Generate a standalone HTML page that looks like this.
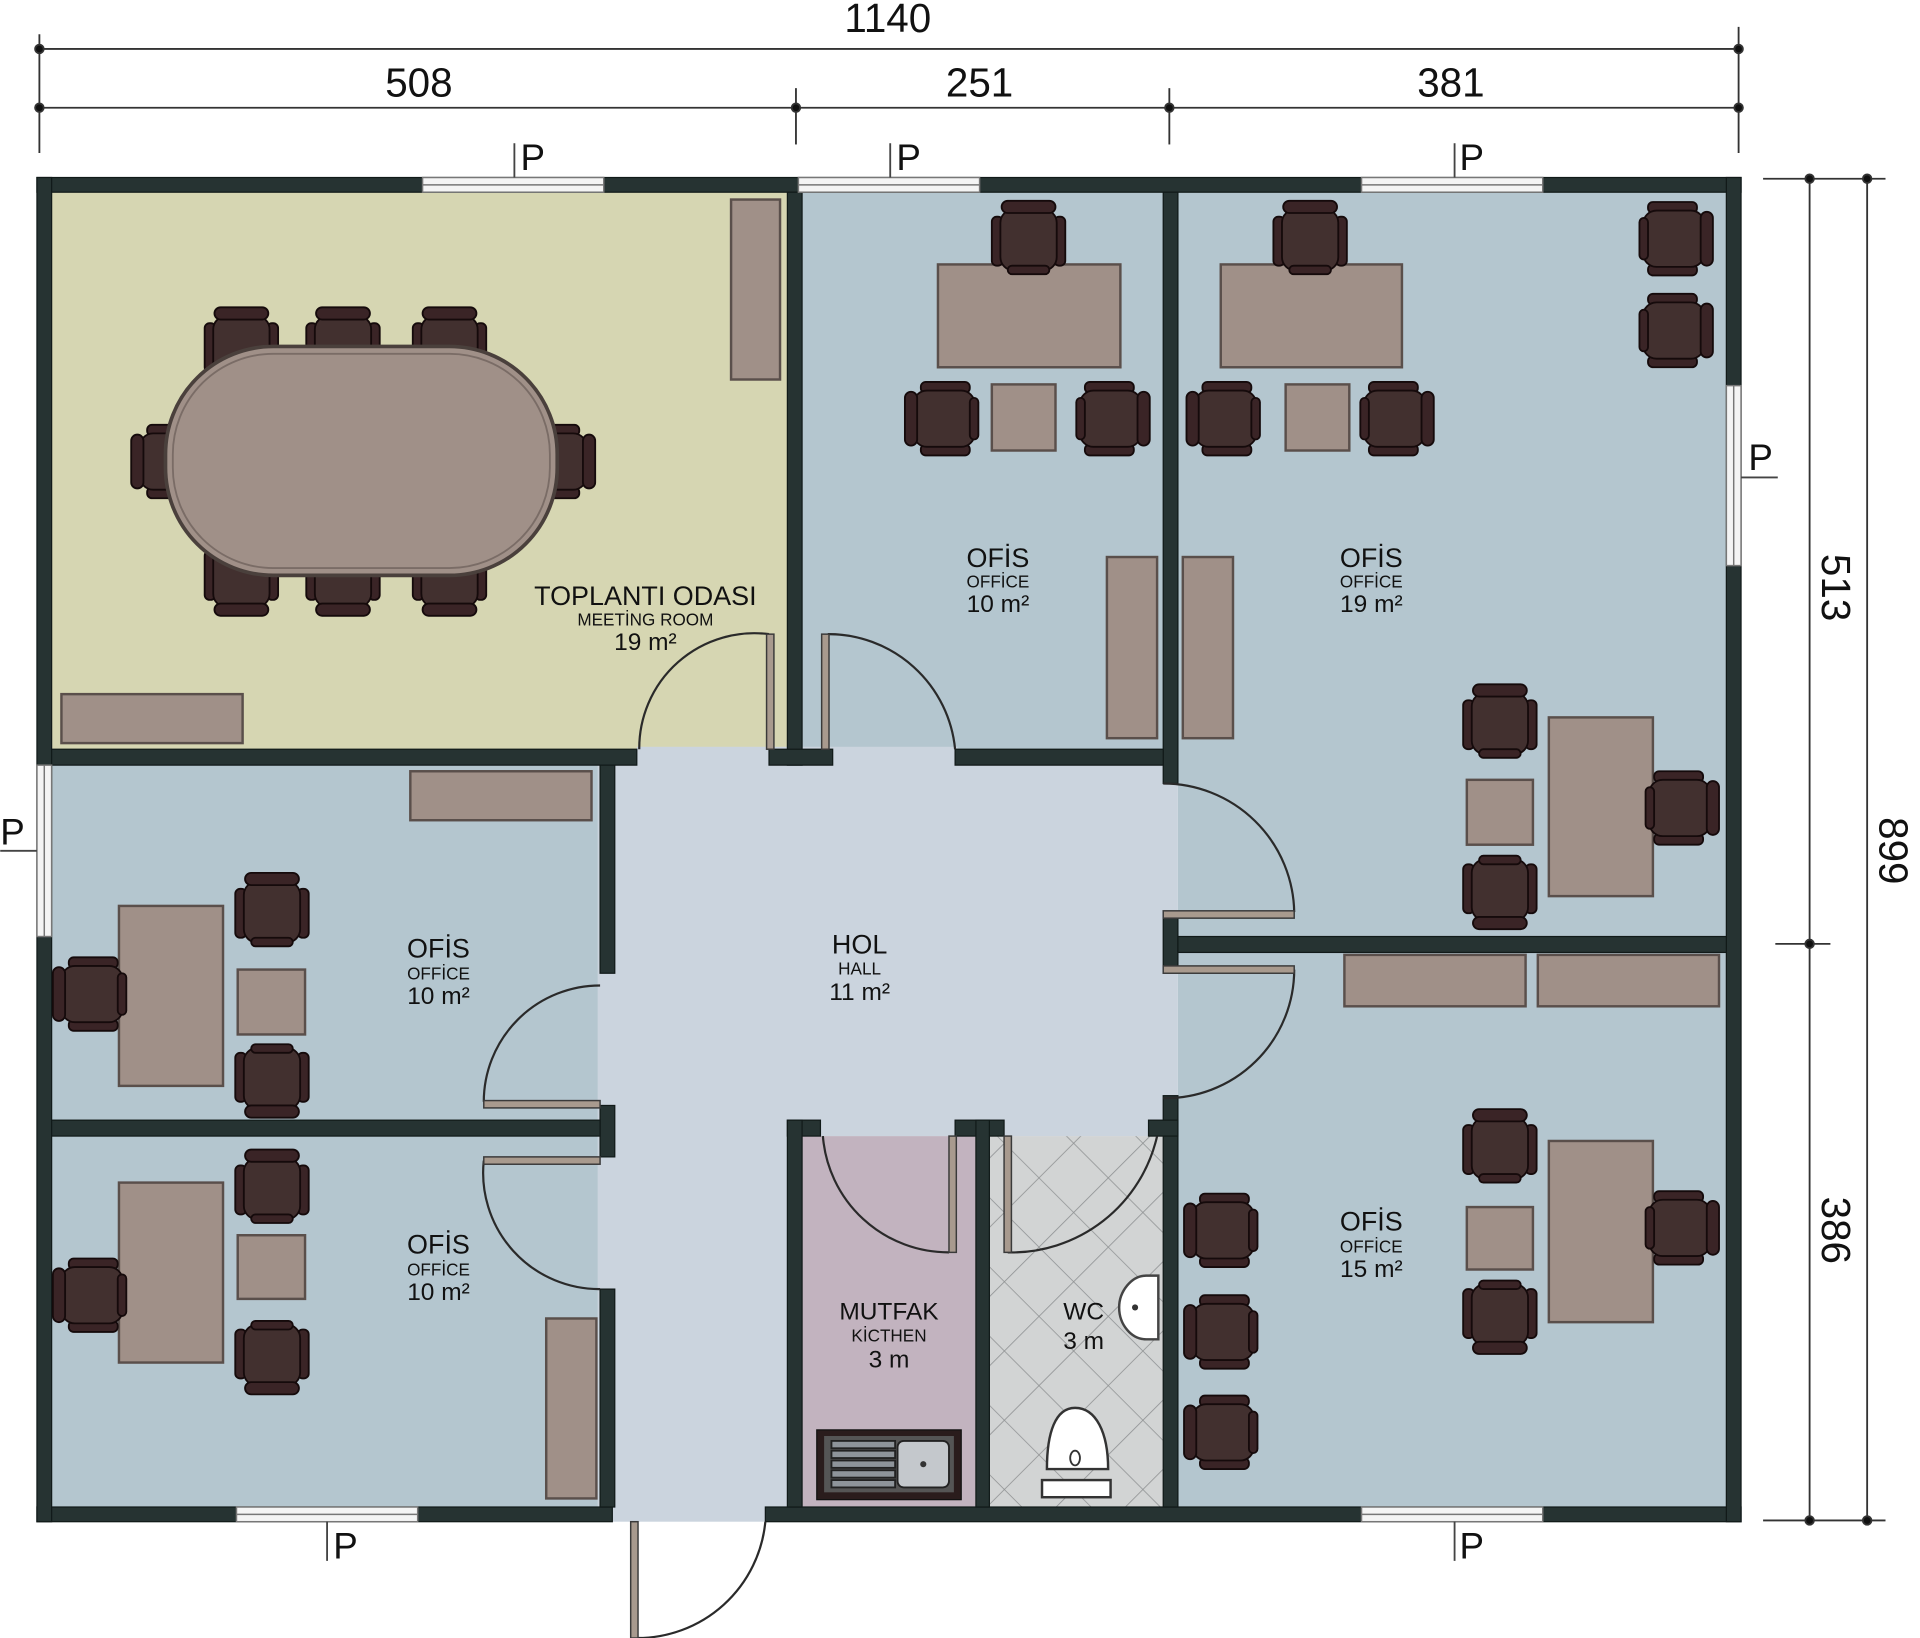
<!DOCTYPE html>
<html><head><meta charset="utf-8"><style>
html,body{margin:0;padding:0;background:#fff;}
svg{display:block;}
text{font-family:"Liberation Sans",Arial,sans-serif;fill:#111;}
</style></head><body>
<svg width="1920" height="1638" viewBox="0 0 1568 1338" xmlns="http://www.w3.org/2000/svg">
<defs>
<g id="ch">
 <rect x="-30" y="-18" width="9" height="40" rx="4" fill="#3a2426" stroke="#150a0b" stroke-width="1.5"/>
 <rect x="21" y="-18" width="9" height="40" rx="4" fill="#3a2426" stroke="#150a0b" stroke-width="1.5"/>
 <rect x="-23" y="-24" width="46" height="50" rx="11" fill="#42302f" stroke="#150a0b" stroke-width="1.5"/>
 <rect x="-22" y="-31" width="44" height="10" rx="5" fill="#3a2426" stroke="#150a0b" stroke-width="1.5"/>
 <rect x="-17" y="22" width="34" height="7" rx="3.5" fill="#3a2426" stroke="#150a0b" stroke-width="1.5"/>
</g>
<pattern id="tile" width="40" height="40" patternUnits="userSpaceOnUse" patternTransform="rotate(45)">
 <rect width="40" height="40" fill="#d2d4d4"/>
 <path d="M0 0H40M0 0V40" stroke="#8e9192" stroke-width="1.3"/>
</pattern>
</defs>

<!-- floors -->
<rect x="42" y="157" width="601" height="455" fill="#d6d6b2"/>
<rect x="655" y="157" width="295" height="455" fill="#b4c6cf"/>
<rect x="962" y="157" width="448" height="608" fill="#b4c6cf"/>
<rect x="42" y="625" width="448" height="290" fill="#b4c6cf"/>
<rect x="42" y="928" width="448" height="303" fill="#b4c6cf"/>
<rect x="962" y="778" width="448" height="453" fill="#b4c6cf"/>
<rect x="655" y="928" width="142" height="303" fill="#c2b3bf"/>
<rect x="808" y="928" width="142" height="303" fill="url(#tile)"/>
<rect x="490" y="612" width="472" height="316" fill="#cbd4de"/>
<rect x="488" y="612" width="155" height="631" fill="#cbd4de"/>
<rect x="520" y="610" width="262" height="16" fill="#cbd4de"/>

<!-- walls -->
<g fill="#263332" stroke="#111a19" stroke-width="1">
<rect x="30" y="145" width="1392" height="12"/>
<rect x="30" y="1231" width="470" height="12"/>
<rect x="625" y="1231" width="797" height="12"/>
<rect x="30" y="145" width="12" height="1098"/>
<rect x="1410" y="145" width="12" height="1098"/>
<rect x="643" y="157" width="12" height="468"/>
<rect x="950" y="157" width="12" height="483"/>
<rect x="950" y="745" width="12" height="45"/>
<rect x="950" y="895" width="12" height="336"/>
<rect x="42" y="612" width="478" height="13"/>
<rect x="628" y="612" width="52" height="13"/>
<rect x="780" y="612" width="170" height="13"/>
<rect x="962" y="765" width="448" height="13"/>
<rect x="490" y="625" width="12" height="170"/>
<rect x="490" y="903" width="12" height="42"/>
<rect x="490" y="1053" width="12" height="178"/>
<rect x="42" y="915" width="448" height="13"/>
<rect x="643" y="915" width="27" height="13"/>
<rect x="780" y="915" width="40" height="13"/>
<rect x="938" y="915" width="24" height="13"/>
<rect x="643" y="915" width="12" height="316"/>
<rect x="797" y="915" width="11" height="316"/>
</g>

<!-- windows -->
<g fill="#f4f4f4" stroke="#777" stroke-width="1.2">
<rect x="345" y="145" width="148" height="12"/><line x1="345" y1="151" x2="493" y2="151"/>
<rect x="652" y="145" width="148" height="12"/><line x1="652" y1="151" x2="800" y2="151"/>
<rect x="1112" y="145" width="148" height="12"/><line x1="1112" y1="151" x2="1260" y2="151"/>
<rect x="193" y="1231" width="148" height="12"/><line x1="193" y1="1237" x2="341" y2="1237"/>
<rect x="1112" y="1231" width="148" height="12"/><line x1="1112" y1="1237" x2="1260" y2="1237"/>
<rect x="30" y="625" width="12" height="140"/><line x1="36" y1="625" x2="36" y2="765"/>
<rect x="1410" y="315" width="12" height="147"/><line x1="1416" y1="315" x2="1416" y2="462"/>
</g>
<g stroke="#444" stroke-width="1.5">
<line x1="420" y1="117" x2="420" y2="145"/><line x1="727" y1="117" x2="727" y2="145"/><line x1="1188" y1="117" x2="1188" y2="145"/>
<line x1="267" y1="1243" x2="267" y2="1275"/><line x1="1188" y1="1243" x2="1188" y2="1275"/>
<line x1="0" y1="695" x2="30" y2="695"/><line x1="1422" y1="390" x2="1452" y2="390"/>
</g>
<g font-size="30">
<text x="425" y="139">P</text><text x="732" y="139">P</text><text x="1192" y="139">P</text>
<text x="272" y="1273">P</text><text x="1192" y="1273">P</text>
<text x="0" y="690">P</text><text x="1428" y="384">P</text>
</g>

<!-- dimensions -->
<g stroke="#333" stroke-width="1.5" fill="#111">
<line x1="30" y1="40" x2="1422" y2="40"/>
<line x1="30" y1="88" x2="1422" y2="88"/>
<line x1="32" y1="28" x2="32" y2="125"/><line x1="1420" y1="22" x2="1420" y2="125"/>
<line x1="650" y1="72" x2="650" y2="118"/><line x1="955" y1="72" x2="955" y2="118"/>
<circle cx="32" cy="40" r="3.5"/><circle cx="1420" cy="40" r="3.5"/>
<circle cx="32" cy="88" r="3.5"/><circle cx="650" cy="88" r="3.5"/><circle cx="955" cy="88" r="3.5"/><circle cx="1420" cy="88" r="3.5"/>
<line x1="1478" y1="145" x2="1478" y2="1243"/><line x1="1525" y1="145" x2="1525" y2="1243"/>
<line x1="1440" y1="146" x2="1540" y2="146"/><line x1="1440" y1="1242" x2="1540" y2="1242"/>
<line x1="1450" y1="771" x2="1495" y2="771"/>
<circle cx="1478" cy="146" r="3.5"/><circle cx="1525" cy="146" r="3.5"/><circle cx="1478" cy="771" r="3.5"/>
<circle cx="1478" cy="1242" r="3.5"/><circle cx="1525" cy="1242" r="3.5"/>
</g>
<g font-size="33" text-anchor="middle">
<text x="725" y="26">1140</text>
<text x="342" y="79">508</text><text x="800" y="79">251</text><text x="1185" y="79">381</text>
<text transform="translate(1488,480) rotate(90)">513</text>
<text transform="translate(1488,1005) rotate(90)">386</text>
<text transform="translate(1535,695) rotate(90)">899</text>
</g>

<!-- doors -->
<g fill="none" stroke="#2a2a2a" stroke-width="1.8">
<path d="M628 518 A94 94 0 0 0 522 612"/>
<path d="M676 518 A104 104 0 0 1 780 612"/>
<path d="M1057 745 A107 107 0 0 0 950 640"/>
<path d="M1057 792 A105 105 0 0 1 950 897"/>
<path d="M395 900 A95 95 0 0 1 490 805"/>
<path d="M395 948 A95 95 0 0 0 490 1053"/>
<path d="M672 928 A103 103 0 0 0 775 1023"/>
<path d="M945 928 A122 122 0 0 1 823 1023"/>
<path d="M625 1243 A105 105 0 0 1 520 1338"/>
</g>
<g fill="#a89a8e" stroke="#3a3a3a" stroke-width="1.2">
<rect x="626" y="518" width="6" height="94"/>
<rect x="671" y="518" width="6" height="94"/>
<rect x="950" y="744" width="107" height="6"/>
<rect x="950" y="789" width="107" height="6"/>
<rect x="395" y="899" width="95" height="6"/>
<rect x="395" y="945" width="95" height="6"/>
<rect x="775" y="928" width="6" height="95"/>
<rect x="820" y="928" width="6" height="95"/>
<rect x="515" y="1243" width="6" height="95"/>
</g>

<!-- furniture: tables/cabinets -->
<g fill="#a09088" stroke="#5a4f4b" stroke-width="2">
<rect x="597" y="163" width="40" height="147"/>
<rect x="50" y="567" width="148" height="40"/>
<rect x="766" y="216" width="149" height="84"/>
<rect x="810" y="314" width="52" height="54"/>
<rect x="904" y="455" width="41" height="148"/>
<rect x="997" y="216" width="148" height="84"/>
<rect x="1050" y="314" width="52" height="54"/>
<rect x="966" y="455" width="41" height="148"/>
<rect x="1265" y="586" width="85" height="146"/>
<rect x="1198" y="637" width="54" height="53"/>
<rect x="335" y="630" width="148" height="40"/>
<rect x="97" y="740" width="85" height="147"/>
<rect x="194" y="792" width="55" height="53"/>
<rect x="97" y="966" width="85" height="147"/>
<rect x="194" y="1009" width="55" height="52"/>
<rect x="446" y="1077" width="41" height="147"/>
<rect x="1098" y="780" width="148" height="42"/>
<rect x="1256" y="780" width="148" height="42"/>
<rect x="1265" y="932" width="85" height="148"/>
<rect x="1198" y="986" width="54" height="51"/>
</g>

<!-- chairs -->
<use href="#ch" transform="translate(197,282)"/>
<use href="#ch" transform="translate(280,282)"/>
<use href="#ch" transform="translate(367,282)"/>
<use href="#ch" transform="translate(197,472) rotate(180)"/>
<use href="#ch" transform="translate(280,472) rotate(180)"/>
<use href="#ch" transform="translate(367,472) rotate(180)"/>
<use href="#ch" transform="translate(138,377) rotate(-90)"/>
<use href="#ch" transform="translate(455,377) rotate(90)"/>
<rect x="135" y="283" width="320" height="187" rx="88" fill="#a09088" stroke="#4a403c" stroke-width="3"/>
<rect x="141" y="289" width="308" height="175" rx="82" fill="none" stroke="#7a6c66" stroke-width="1.5"/>

<use href="#ch" transform="translate(840,195)"/>
<use href="#ch" transform="translate(770,342) rotate(-90)"/>
<use href="#ch" transform="translate(908,342) rotate(90)"/>
<use href="#ch" transform="translate(1070,195)"/>
<use href="#ch" transform="translate(1000,342) rotate(-90)"/>
<use href="#ch" transform="translate(1140,342) rotate(90)"/>
<use href="#ch" transform="translate(1368,195) rotate(90)"/>
<use href="#ch" transform="translate(1368,270) rotate(90)"/>
<use href="#ch" transform="translate(1373,660) rotate(90)"/>
<use href="#ch" transform="translate(1225,590)"/>
<use href="#ch" transform="translate(1225,728) rotate(180)"/>
<use href="#ch" transform="translate(74,812) rotate(-90)"/>
<use href="#ch" transform="translate(222,744)"/>
<use href="#ch" transform="translate(222,882) rotate(180)"/>
<use href="#ch" transform="translate(74,1058) rotate(-90)"/>
<use href="#ch" transform="translate(222,970)"/>
<use href="#ch" transform="translate(222,1108) rotate(180)"/>
<use href="#ch" transform="translate(1373,1003) rotate(90)"/>
<use href="#ch" transform="translate(1225,937)"/>
<use href="#ch" transform="translate(1225,1075) rotate(180)"/>
<use href="#ch" transform="translate(998,1005) rotate(-90)"/>
<use href="#ch" transform="translate(998,1088) rotate(-90)"/>
<use href="#ch" transform="translate(998,1170) rotate(-90)"/>

<!-- sink -->
<rect x="667" y="1168" width="118" height="57" fill="#2a1c1c" stroke="#111"/>
<rect x="673" y="1173" width="106" height="46" fill="#555"/>
<g stroke="#222" stroke-width="1.5" fill="#8e949a">
<rect x="679" y="1177" width="52" height="6"/><rect x="679" y="1185" width="52" height="6"/><rect x="679" y="1193" width="52" height="6"/><rect x="679" y="1201" width="52" height="6"/><rect x="679" y="1209" width="52" height="6"/>
<rect x="733" y="1177" width="42" height="38" rx="5" fill="#c4c8cc"/>
</g>
<circle cx="754" cy="1196" r="2.5" fill="#333"/>
<!-- wc -->
<path d="M878 1150 C895 1150 905 1170 905 1200 L855 1200 C855 1170 862 1150 878 1150Z" fill="#fff" stroke="#333" stroke-width="2"/>
<ellipse cx="878" cy="1191" rx="4" ry="6" fill="none" stroke="#333" stroke-width="1.5"/>
<rect x="851" y="1209" width="56" height="14" fill="#fff" stroke="#333" stroke-width="2"/>
<path d="M936 1042 C924 1042 914 1055 914 1068 C914 1082 924 1094 936 1094 L946 1094 L946 1042Z" fill="#fff" stroke="#444" stroke-width="2"/>
<circle cx="927" cy="1068" r="2.5" fill="#333"/>

<!-- labels -->
<g text-anchor="middle">
<text x="527" y="494" font-size="22">TOPLANTI ODASI</text>
<text x="527" y="511" font-size="14">MEETİNG ROOM</text>
<text x="527" y="531" font-size="20">19 m²</text>
<text x="815" y="463" font-size="22">OFİS</text><text x="815" y="480" font-size="14">OFFİCE</text><text x="815" y="500" font-size="20">10 m²</text>
<text x="1120" y="463" font-size="22">OFİS</text><text x="1120" y="480" font-size="14">OFFİCE</text><text x="1120" y="500" font-size="20">19 m²</text>
<text x="358" y="782" font-size="22">OFİS</text><text x="358" y="800" font-size="14">OFFİCE</text><text x="358" y="820" font-size="20">10 m²</text>
<text x="358" y="1024" font-size="22">OFİS</text><text x="358" y="1042" font-size="14">OFFİCE</text><text x="358" y="1062" font-size="20">10 m²</text>
<text x="1120" y="1005" font-size="22">OFİS</text><text x="1120" y="1023" font-size="14">OFFİCE</text><text x="1120" y="1043" font-size="20">15 m²</text>
<text x="702" y="779" font-size="22">HOL</text><text x="702" y="796" font-size="14">HALL</text><text x="702" y="817" font-size="20">11 m²</text>
<text x="726" y="1078" font-size="20">MUTFAK</text><text x="726" y="1096" font-size="14">KİCTHEN</text><text x="726" y="1117" font-size="20">3 m</text>
<text x="885" y="1078" font-size="20">WC</text><text x="885" y="1102" font-size="20">3 m</text>
</g>
</svg>
</body></html>
